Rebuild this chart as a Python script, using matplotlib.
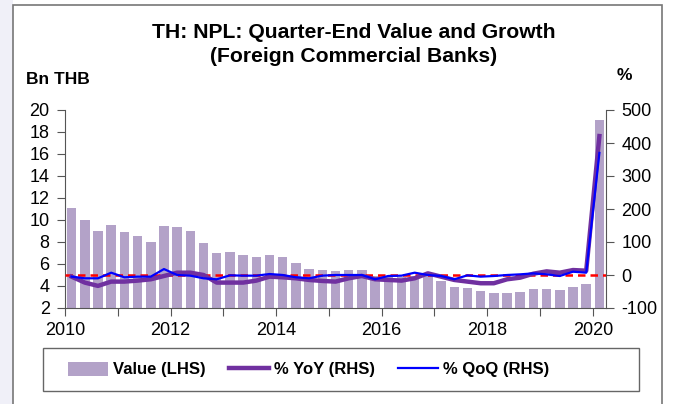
import numpy as np
import matplotlib
matplotlib.use('Agg')
import matplotlib.pyplot as plt
from matplotlib.patches import Rectangle, Patch
from matplotlib.lines import Line2D

plt.rcParams['font.family'] = ['Liberation Sans', 'DejaVu Sans']
plt.rcParams['axes.unicode_minus'] = False

# quarterly data, 2010Q1 .. 2020Q1
value_bn = [11.1, 10.0, 9.0, 9.55, 8.9, 8.55, 8.0, 9.45, 9.35, 9.0,
            7.9, 7.0, 7.05, 6.85, 6.65, 6.8, 6.65, 6.1, 5.55, 5.45,
            5.35, 5.45, 5.5, 4.9, 4.8, 4.8, 4.9, 5.1, 4.5, 3.9,
            3.8, 3.55, 3.4, 3.4, 3.45, 3.7, 3.75, 3.65, 3.95, 4.2,
            19.05]
yoy_pct = [-5, -23, -33, -20, -20, -17, -13, -3, 7, 7,
           0, -23, -23, -23, -17, -5, -7, -10, -15, -18,
           -20, -10, -3, -13, -15, -17, -10, 5, -5, -15,
           -20, -25, -25, -13, -8, 4, 11, 7, 15, 13,
           421]
qoq_pct = [-5, -10, -10, 7, -7, -5, -5, 18, 0, -2,
           -10, -13, -1, -2, -2, 3, 0, -7, -10, -2,
           0, 0, 0, -13, -3, -2, 7, 0, -3, -13,
           -1, -5, -3, 0, 2, 5, 2, -3, 10, 7,
           370]
year_ticks = [2010, 2012, 2014, 2016, 2018, 2020]

# bar centres in fractional years
x = 2010 + (np.arange(len(value_bn)) + 0.5) * 0.25

W, H = 673, 404
fig = plt.figure(figsize=(W / 100, H / 100), dpi=100)
fig.patch.set_facecolor('white')

# light strip left of the frame and the frame itself
fig.patches.append(Rectangle((0, 0), 13 / W, 1, transform=fig.transFigure,
                             facecolor='#f0f0f8', edgecolor='none', zorder=0))
fig.patches.append(Rectangle((13 / W, -0.05), (662 - 13) / W, 1 - 5 / H + 0.05,
                             transform=fig.transFigure, facecolor='none',
                             edgecolor='#777777', linewidth=1.2, zorder=1))

ax = fig.add_axes([65 / W, 1 - 308 / H, (606 - 65) / W, (308 - 110) / H])
ax.bar(x, value_bn, width=0.18, bottom=0, color='#b3a2c8', zorder=1)
ax.set_ylim(2, 20)
ax.set_yticks(range(2, 21, 2))
ax.set_xlim(2010, 2020.25)
ax.set_xticks(range(2010, 2021))
ax.set_xticklabels([str(y) if y in year_ticks else '' for y in range(2010, 2021)])

ax2 = ax.twinx()
ax2.axhline(0, color='red', linestyle=(0, (3, 2)), linewidth=1.8, zorder=3)
ax2.plot(x, yoy_pct, color='#7030a0', linewidth=3.2, zorder=4)
ax2.plot(x, qoq_pct, color='#0000ff', linewidth=1.6, zorder=5)
ax2.set_ylim(-100, 500)
ax2.set_yticks(range(-100, 501, 100))

for a in (ax, ax2):
    a.spines['top'].set_visible(False)
    for s in ('left', 'right', 'bottom'):
        a.spines[s].set_color('#555555')
    a.tick_params(labelsize=13, colors='#555555', labelcolor='black',
                  length=6, direction='out', pad=5)
ax.spines['right'].set_visible(False)
ax2.spines['left'].set_visible(False)
ax2.spines['bottom'].set_visible(False)
ax.tick_params(axis='x', pad=4)

fig.text(354 / W, 1 - 33 / H, 'TH: NPL: Quarter-End Value and Growth',
         ha='center', va='center', fontsize=15.2, fontweight='bold')
fig.text(354 / W, 1 - 56 / H, '(Foreign Commercial Banks)',
         ha='center', va='center', fontsize=15.2, fontweight='bold')
fig.text(26 / W, 1 - 79 / H, 'Bn THB', ha='left', va='center',
         fontsize=12.5, fontweight='bold')
fig.text(624 / W, 1 - 76 / H, '%', ha='center', va='center',
         fontsize=12.5, fontweight='bold')

# legend box drawn separately, legend content left-aligned inside it
fig.patches.append(Rectangle((43 / W, 1 - 391 / H), (639 - 43) / W, 43 / H,
                             transform=fig.transFigure, facecolor='white',
                             edgecolor='#666666', linewidth=1.0, zorder=2))
handles = [Patch(facecolor='#b3a2c8', edgecolor='none'),
           Line2D([], [], color='#7030a0', linewidth=3.2),
           Line2D([], [], color='#0000ff', linewidth=1.6)]
labels = ['Value (LHS)', '% YoY (RHS)', '% QoQ (RHS)']
leg = fig.legend(handles, labels, loc='center left', ncol=3,
                 bbox_to_anchor=(68 / W, 1 - 369.5 / H),
                 frameon=False, prop={'weight': 'bold', 'size': 12},
                 handlelength=2.4, handleheight=0.9, handletextpad=0.3,
                 columnspacing=1.4, borderaxespad=0, borderpad=0)
leg.set_zorder(3)

fig.savefig('out.png', dpi=100, facecolor=fig.get_facecolor())
